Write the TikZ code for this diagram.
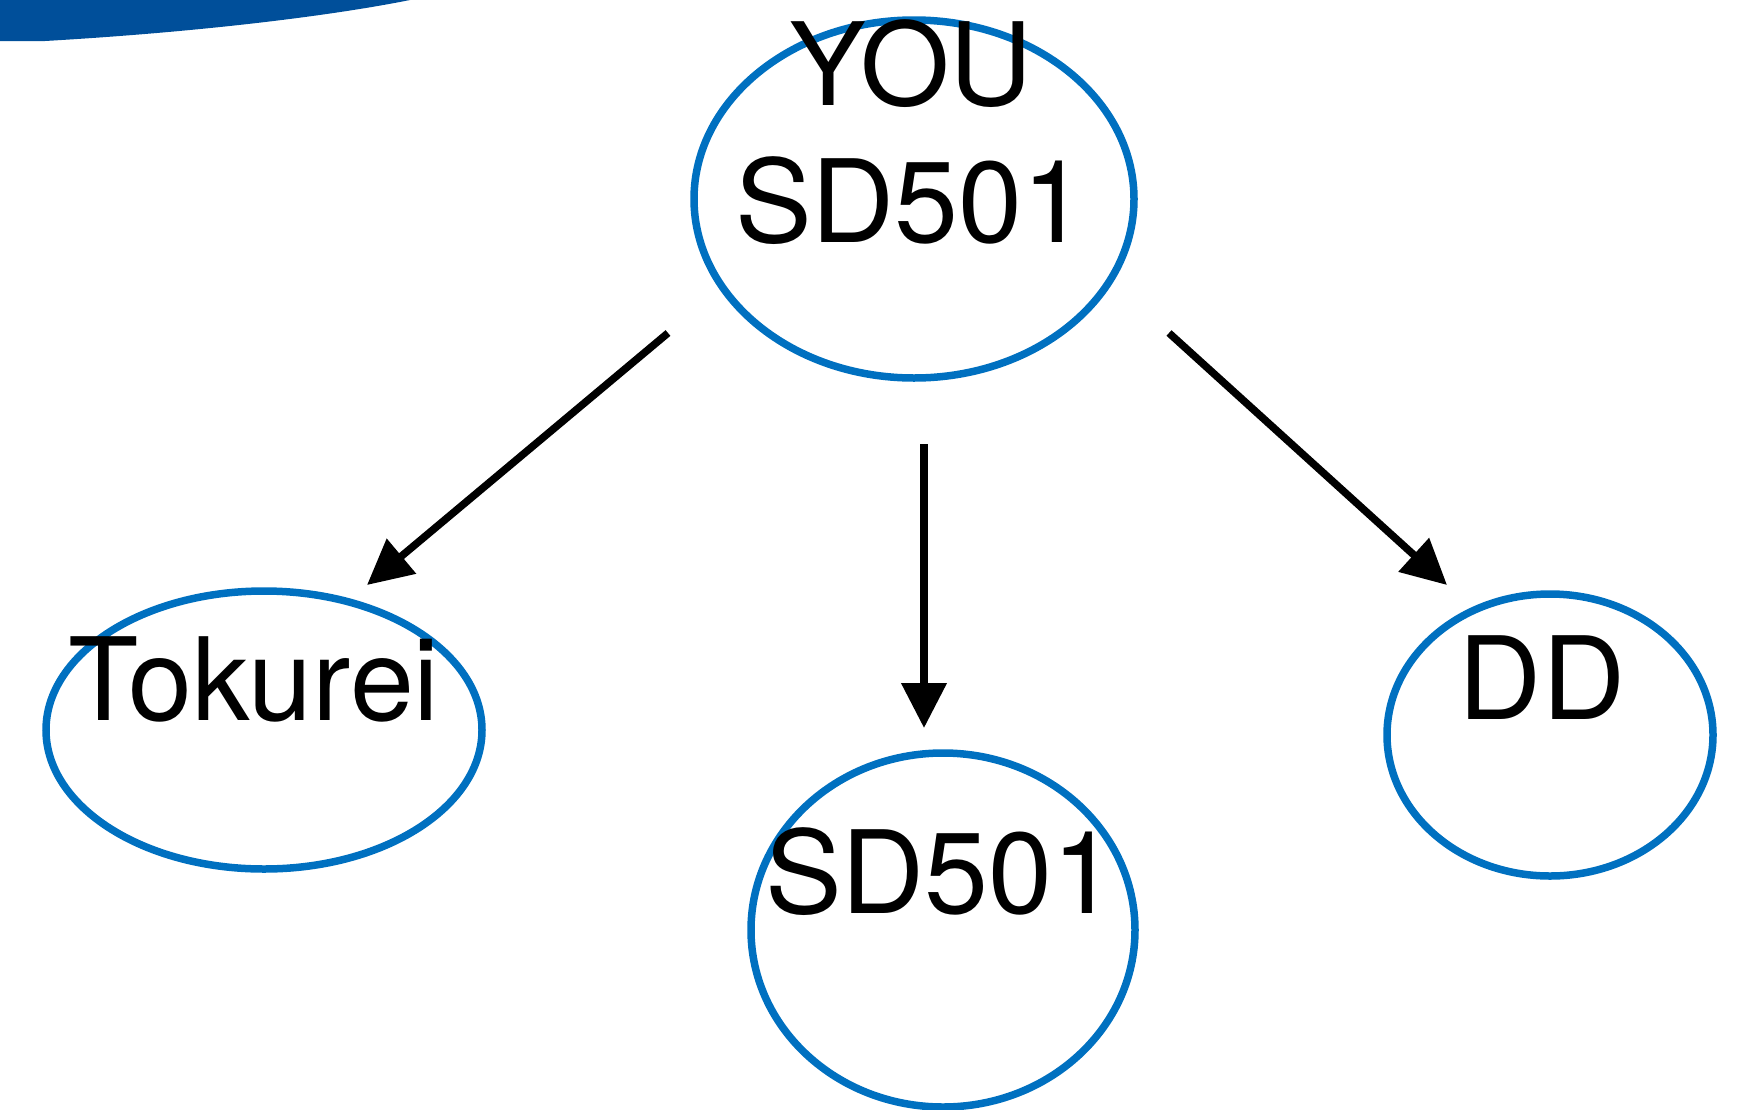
\documentclass[tikz,border=0pt]{standalone}
\usepackage{fontspec}
\setmainfont{TeX Gyre Heros}
\usetikzlibrary{shapes.geometric,arrows.meta,calc}
\definecolor{ellblue}{RGB}{0,112,192}
\definecolor{swoosh}{RGB}{0,79,154}
\tikzset{
  ell/.style={ellipse, draw=ellblue, line width=7.5pt, inner sep=0pt},
  lbl/.style={inner sep=0pt, align=center, font=\fontsize{115}{137}\selectfont},
  conn/.style={line width=7.5pt, -{Triangle[length=45pt,width=44pt]}}
}
\begin{document}
\begin{tikzpicture}[x=1pt,y=-1pt]
\useasboundingbox (0,0) rectangle (1742,1109);
% top-left swoosh
\fill[swoosh] (0,0) -- (410,0) .. controls (330,16) and (200,32) .. (45,41) -- (0,41) -- cycle;
% ellipses
\node[ell, minimum width=440pt, minimum height=358pt] (you) at (914,199) {};
\node[ell, minimum width=436pt, minimum height=278pt] (tok) at (264,730) {};
\node[ell, minimum width=326pt, minimum height=282pt] (dd) at (1550,735) {};
\node[ell, minimum width=384pt, minimum height=354pt] (sd) at (943,930) {};
% labels
\node[lbl, anchor=base] (youtxt) at (911,242) {YOU\\SD501};
\node[lbl, anchor=base] (toktxt) at (254,720) {Tokurei};
\node[lbl, anchor=base] (ddtxt) at (1542,719) {DD};
\node[lbl, anchor=base] (sdtxt) at (941,913) {SD501};
% connectors
\coordinate (s1) at ($(you)+(-246,134)$);
\coordinate (t1) at ($(tok)+(103,-145)$);
\coordinate (s2) at ($(you)+(10,245)$);
\coordinate (t2) at ($(sd)+(-19,-202)$);
\coordinate (s3) at ($(you)+(255,134)$);
\coordinate (t3) at ($(dd)+(-103,-150)$);
\draw[conn] (s1) -- (t1);
\draw[conn] (s2) -- (t2);
\draw[conn] (s3) -- (t3);
\end{tikzpicture}
\end{document}
